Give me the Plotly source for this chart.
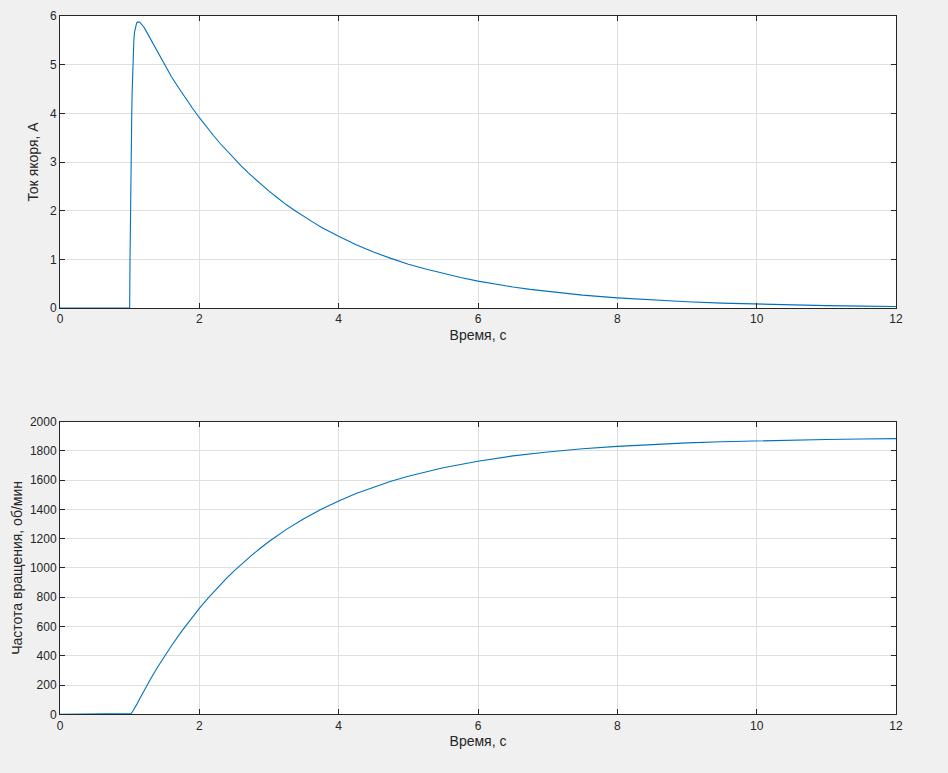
import plotly.graph_objects as go

# Armature current (A) vs time (s)
t_cur = [0, 0.5, 1.0, 1.005, 1.01, 1.015, 1.02, 1.025, 1.03, 1.035, 1.04, 1.045, 1.05, 1.055,
         1.06, 1.07, 1.08, 1.09, 1.10, 1.11, 1.12, 1.13, 1.14, 1.15, 1.175, 1.2, 1.225, 1.25,
         1.275, 1.3, 1.35, 1.4, 1.5, 1.6, 1.7, 1.8, 1.9, 2.0, 2.1, 2.2, 2.3, 2.4, 2.5, 2.6,
         2.7, 2.8, 2.9, 3.0, 3.125, 3.25, 3.375, 3.5, 3.625, 3.75, 3.875, 4.0, 4.25, 4.5, 4.75,
         5.0, 5.25, 5.5, 5.75, 6.0, 6.25, 6.5, 6.75, 7.0, 7.5, 8.0, 8.5, 9.0, 9.5, 10.0, 10.5,
         11.0, 11.5, 12.0]
i_cur = [0, 0, 0, 1.0, 1.9, 2.6, 3.2, 3.65, 4.0, 4.4, 4.75, 5.0, 5.2, 5.37,
         5.5, 5.67, 5.76, 5.82, 5.855, 5.875, 5.88, 5.88, 5.875, 5.865, 5.83, 5.78, 5.72, 5.655,
         5.585, 5.51, 5.37, 5.24, 4.99, 4.75, 4.53, 4.31, 4.11, 3.91, 3.72, 3.55, 3.38, 3.22, 3.06, 2.92,
         2.78, 2.65, 2.52, 2.40, 2.26, 2.12, 2.00, 1.88, 1.77, 1.66, 1.56, 1.475, 1.30, 1.15, 1.02,
         0.90, 0.80, 0.71, 0.625, 0.553, 0.49, 0.433, 0.383, 0.339, 0.265, 0.209, 0.164, 0.128, 0.100, 0.078, 0.061,
         0.048, 0.038, 0.031]

# Rotation speed (rpm) vs time (s)
t_spd = [0, 0.5, 1.0, 1.02, 1.04, 1.06, 1.08, 1.1, 1.15, 1.2, 1.25, 1.3, 1.4, 1.5, 1.6, 1.75,
         1.9, 2.0, 2.125, 2.25, 2.375, 2.5, 2.625, 2.75, 2.875, 3.0, 3.25, 3.5, 3.75, 4.0, 4.25,
         4.5, 4.75, 5.0, 5.5, 6.0, 6.5, 7.0, 7.5, 8.0, 8.5, 9.0, 9.5, 10.0, 10.5, 11.0, 11.5, 12.0]
w_spd = [0, 0, 0, 5, 17, 32, 49, 66, 112, 156, 200, 241, 321, 395, 468, 570,
         665, 724, 794, 860, 922, 980, 1035, 1086, 1134, 1180, 1263, 1336, 1400, 1457, 1508,
         1552, 1592, 1626, 1684, 1729, 1765, 1792, 1814, 1830, 1843, 1854, 1862, 1868, 1873, 1877, 1880, 1883]

x_ticks = [0, 2, 4, 6, 8, 10, 12]
y1_ticks = [0, 1, 2, 3, 4, 5, 6]
y2_ticks = list(range(0, 2001, 200))

W, H = 948, 773
line_color = "#0072BD"
axis_color = "#262626"
grid_color = "#dfdfdf"
font = "Liberation Sans, Arial, Helvetica, sans-serif"

fig = go.Figure()
fig.add_trace(go.Scatter(x=t_cur, y=i_cur, mode="lines", line=dict(color=line_color, width=1.1),
                         xaxis="x", yaxis="y", showlegend=False))
fig.add_trace(go.Scatter(x=t_spd, y=w_spd, mode="lines", line=dict(color=line_color, width=1.1),
                         xaxis="x2", yaxis="y2", showlegend=False))

xdom = [60 / W, 896 / W]
y1dom = [(H - 308) / H, (H - 16) / H]
y2dom = [(H - 714.3) / H, (H - 421.5) / H]

common = dict(showline=True, linecolor=axis_color, linewidth=1, mirror="ticks",
              ticks="inside", ticklen=5, tickcolor=axis_color, tickwidth=1,
              showgrid=True, gridcolor=grid_color, gridwidth=1, zeroline=False,
              automargin=False,
              tickfont=dict(family=font, size=12, color=axis_color))
title_font = dict(family=font, size=14, color=axis_color)

fig.update_layout(
    width=W, height=H, autosize=False,
    paper_bgcolor="#f0f0f0", plot_bgcolor="white",
    margin=dict(l=0, r=0, t=0, b=0, pad=0),
    xaxis=dict(domain=xdom, anchor="y", range=[0, 12], tickvals=x_ticks,
               title=dict(text="Время, с", font=title_font, standoff=4), **common),
    yaxis=dict(domain=y1dom, anchor="x", range=[0, 6], tickvals=y1_ticks,
               title=dict(text="Ток якоря, А", font=title_font, standoff=8), **common),
    xaxis2=dict(domain=xdom, anchor="y2", range=[0, 12], tickvals=x_ticks,
                title=dict(text="Время, с", font=title_font, standoff=4), **common),
    yaxis2=dict(domain=y2dom, anchor="x2", range=[0, 2000], tickvals=y2_ticks,
                title=dict(text="Частота вращения, об/мин", font=title_font, standoff=3), **common),
)

fig.write_html("out.html", config={"displayModeBar": False},
               post_script="document.body.style.margin='0px';document.body.style.overflow='hidden';")
